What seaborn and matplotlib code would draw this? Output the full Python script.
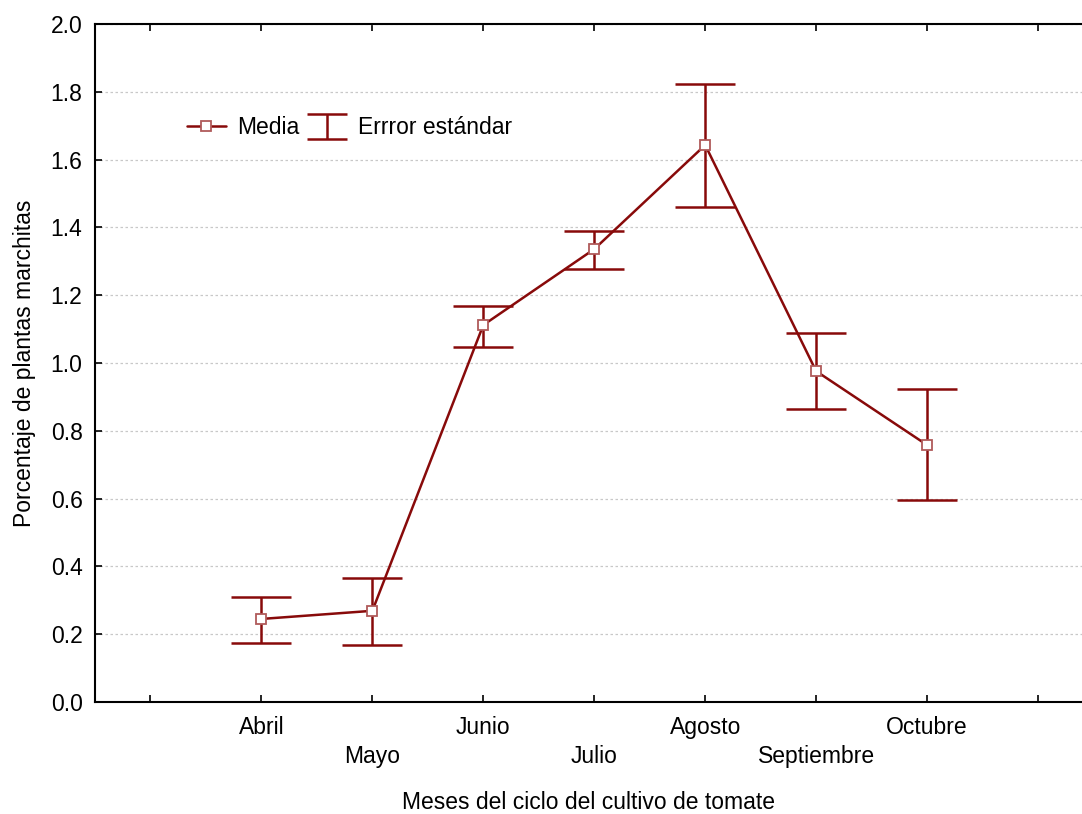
import matplotlib
matplotlib.use("Agg")
import matplotlib.pyplot as plt
from matplotlib.lines import Line2D
from matplotlib.legend_handler import HandlerErrorbar
import seaborn as sns
import pandas as pd
import numpy as np

meses = ["Abril", "Mayo", "Junio", "Julio", "Agosto", "Septiembre", "Octubre"]
media = [0.245, 0.269, 1.112, 1.336, 1.643, 0.976, 0.758]
limite_sup = [0.310, 0.366, 1.168, 1.389, 1.823, 1.088, 0.923]
limite_inf = [0.173, 0.168, 1.047, 1.277, 1.461, 0.864, 0.596]
yticks = [0.0, 0.2, 0.4, 0.6, 0.8, 1.0, 1.2, 1.4, 1.6, 1.8, 2.0]

sns.set_style("white")
FS = 16.5
plt.rcParams["font.family"] = ["Liberation Sans", "DejaVu Sans"]
plt.rcParams["font.size"] = FS
plt.rcParams["text.color"] = "black"
plt.rcParams["axes.labelcolor"] = "black"
plt.rcParams["xtick.color"] = "black"
plt.rcParams["ytick.color"] = "black"

color = "#880a0a"
edge = "#b05a5a"

pos = np.arange(len(meses))
df = pd.DataFrame({"pos": pos, "media": media})

fig = plt.figure(figsize=(10.82, 8.14), dpi=100)
ax = fig.add_axes([95 / 1082, 1 - 702 / 814, 1 - 95 / 1082, (702 - 24) / 814])

err_low = np.array(media) - np.array(limite_inf)
err_high = np.array(limite_sup) - np.array(media)
eb = ax.errorbar(pos, media, yerr=[err_low, err_high], fmt="none", ecolor=color,
                 elinewidth=1.8, capsize=21.5, capthick=1.8, zorder=2,
                 label="Errror estándar")

sns.lineplot(data=df, x="pos", y="media", ax=ax, color=color, linewidth=1.8,
             marker="s", markersize=7.5, markerfacecolor="white",
             markeredgecolor=edge, markeredgewidth=1.3, label="Media", zorder=3)

ax.set_xlim(-1.5, (1082 - 261) / 111)
ax.set_ylim(0, 2.0)
ax.set_yticks(yticks)
ax.set_yticklabels([f"{v:.1f}" for v in yticks])
xt = list(range(-1, 8))
labels = [""]
for i, m in enumerate(meses):
    labels.append(m if i % 2 == 0 else "\n" + m)
labels.append("")
ax.set_xticks(xt)
ax.set_xticklabels(labels, linespacing=1.35)

ax.grid(axis="y", color="#c8c8c8", linestyle=(0, (2, 2)), linewidth=0.9)
ax.grid(axis="x", visible=False)
ax.set_axisbelow(True)

for s in ["left", "bottom", "top"]:
    ax.spines[s].set_visible(True)
    ax.spines[s].set_color("black")
    ax.spines[s].set_linewidth(1.5)
ax.spines["right"].set_visible(False)

ax.tick_params(axis="x", which="both", direction="in", length=5, width=1.2,
               top=True, bottom=True, pad=10, labelsize=FS, colors="black")
ax.tick_params(axis="y", which="both", direction="in", length=5, width=1.2,
               left=True, right=False, pad=9, labelsize=FS, colors="black")

ax.set_xlabel("Meses del ciclo del cultivo de tomate", fontsize=FS, labelpad=16.5)
ax.set_ylabel("Porcentaje de plantas marchitas", fontsize=FS, labelpad=10.5)


def upd(leg, orig):
    leg.update_from(orig)
    if isinstance(leg, Line2D) and leg.get_marker() not in (None, "None", ""):
        if leg.get_marker() != "s":
            leg.set_markersize(40 * 72 / 100)


h, l = ax.get_legend_handles_labels()
order = [l.index("Media"), l.index("Errror estándar")]
ax.legend([h[i] for i in order], [l[i] for i in order], ncol=2, frameon=False,
          loc="center left", bbox_to_anchor=((187 - 95) / 987, (702 - 128) / 678),
          borderaxespad=0, borderpad=0, handlelength=1.7, handletextpad=0.5,
          columnspacing=0.35, fontsize=FS,
          handler_map={type(eb): HandlerErrorbar(xerr_size=0.55, update_func=upd)})

fig.savefig("out.png", dpi=100)
